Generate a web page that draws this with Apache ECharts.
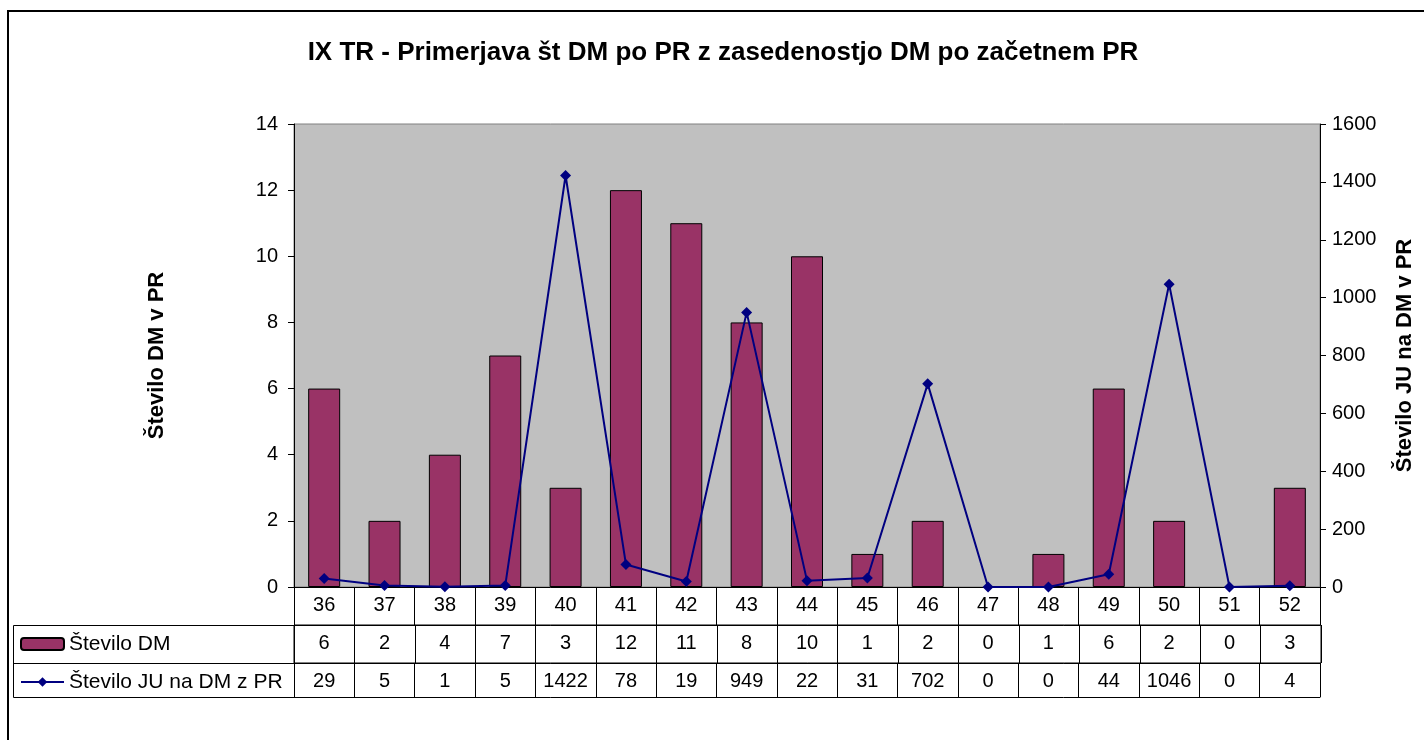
<!DOCTYPE html>
<html>
<head>
<meta charset="utf-8">
<script src="https://cdn.jsdelivr.net/npm/echarts@6/dist/echarts.min.js"></script>
<style>html,body{margin:0;padding:0;background:#fff;}#c{width:1424px;height:740px;}</style>
</head>
<body>
<div id="c"></div>
<script>
const categories = ['36','37','38','39','40','41','42','43','44','45','46','47','48','49','50','51','52'];
const steviloDM = [6,2,4,7,3,12,11,8,10,1,2,0,1,6,2,0,3];
const steviloJU = [29,5,1,5,1422,78,19,949,22,31,702,0,0,44,1046,0,4];
const leftTicks = [0,2,4,6,8,10,12,14];
const rightTicks = [0,200,400,600,800,1000,1200,1400,1600];

const FONT = '"Liberation Sans", Arial, sans-serif';
const chart = echarts.init(document.getElementById('c'), null, {renderer:'canvas'});

const GL = 294, GR = 1321, GT = 124, GB = 587;
const tableAxis = (offset, vals, tickLen, showLabel) => ({
  type:'category', data:categories, position:'bottom', offset:offset, gridIndex:0,
  boundaryGap:true,
  axisLine:{show:true, onZero:false, lineStyle:{color:'#000', width:1}},
  axisTick:{show:tickLen>0, interval:0, length:tickLen, inside:false, lineStyle:{color:'#000', width:1}},
  axisLabel:{show:showLabel, interval:0, margin:8, color:'#000', fontSize:20, fontFamily:FONT,
    formatter:(v, i) => vals ? String(vals[i]) : v},
  splitLine:{show:false}
});

const option = {
  animation:false,
  backgroundColor:'#fff',
  textStyle:{fontFamily:FONT},
  title:{
    text:'IX TR - Primerjava št DM po PR z zasedenostjo DM po začetnem PR',
    left:718, textAlign:'center', top:35,
    textStyle:{fontSize:26, fontWeight:'bold', color:'#000', fontFamily:FONT}
  },
  legend:{
    orient:'vertical', left:15, top:627, itemGap:14, itemWidth:43, itemHeight:12,
    textStyle:{fontSize:21, color:'#000', fontFamily:FONT, lineHeight:24},
    data:['Število DM','Število JU na DM z PR']
  },
  grid:[
    {left:GL, right:1424-GR, top:GT, bottom:740-GB, show:true,
     backgroundColor:'#c0c0c0', borderColor:'#808080', borderWidth:1},
    {left:GL, right:1424-GR, top:625, height:38, show:true,
     backgroundColor:'transparent', borderColor:'#000', borderWidth:1}
  ],
  xAxis:[
    tableAxis(0, null, 38, true),
    tableAxis(38, steviloDM, 0, true),
    tableAxis(76, steviloJU, 34, true),
    tableAxis(110, null, 0, false),
    {type:'category', data:categories, gridIndex:1, boundaryGap:true,
     axisLine:{show:false}, axisTick:{show:false}, axisLabel:{show:false},
     splitLine:{show:true, interval:0, lineStyle:{color:'#000', width:1}}}
  ],
  yAxis:[
    {type:'value', min:leftTicks[0], max:leftTicks[leftTicks.length-1], interval:2, position:'left',
     name:'Število DM v PR', nameLocation:'middle', nameGap:126, nameRotate:90,
     nameTextStyle:{fontSize:22, fontWeight:'bold', color:'#000', fontFamily:FONT},
     axisLine:{show:true, onZero:false, lineStyle:{color:'#000', width:1}},
     axisTick:{show:true, length:6, lineStyle:{color:'#000'}},
     axisLabel:{color:'#000', fontSize:20, margin:16, fontFamily:FONT, formatter:v => String(v)},
     splitLine:{show:false}},
    {type:'value', min:rightTicks[0], max:rightTicks[rightTicks.length-1], interval:200, position:'right',
     name:'Število JU na DM v PR', nameLocation:'middle', nameGap:74, nameRotate:90,
     nameTextStyle:{fontSize:22, fontWeight:'bold', color:'#000', fontFamily:FONT},
     axisLine:{show:true, onZero:false, lineStyle:{color:'#000', width:1}},
     axisTick:{show:true, length:6, lineStyle:{color:'#000'}},
     axisLabel:{color:'#000', fontSize:20, margin:12, fontFamily:FONT, formatter:v => String(v)},
     splitLine:{show:false}},
    {type:'value', gridIndex:1, show:false, min:0, max:1}
  ],
  series:[
    {name:'Število DM', type:'bar', xAxisIndex:0, yAxisIndex:0,
     data:steviloDM.map(v => v === 0 ? {value:v, itemStyle:{borderWidth:0, opacity:0}} : v), barWidth:32,
     itemStyle:{color:'#993366', borderColor:'#000', borderWidth:1}},
    {name:'Število JU na DM z PR', type:'line', xAxisIndex:0, yAxisIndex:1, data:steviloJU,
     symbol:'diamond', symbolSize:11, z:5,
     lineStyle:{color:'#000080', width:2}, itemStyle:{color:'#000080'}}
  ],
  graphic:[
    {type:'rect', shape:{x:8, y:11, width:1440, height:760}, style:{fill:'none', stroke:'#000', lineWidth:2}, silent:true},
    {type:'line', shape:{x1:13.5, y1:625.5, x2:GL, y2:625.5}, style:{stroke:'#000', lineWidth:1}},
    {type:'line', shape:{x1:13.5, y1:663.5, x2:GL, y2:663.5}, style:{stroke:'#000', lineWidth:1}},
    {type:'line', shape:{x1:13.5, y1:697.5, x2:GL, y2:697.5}, style:{stroke:'#000', lineWidth:1}},
    {type:'line', shape:{x1:13.5, y1:625.5, x2:13.5, y2:697.5}, style:{stroke:'#000', lineWidth:1}}
  ]
};
chart.setOption(option);
</script>
</body>
</html>
